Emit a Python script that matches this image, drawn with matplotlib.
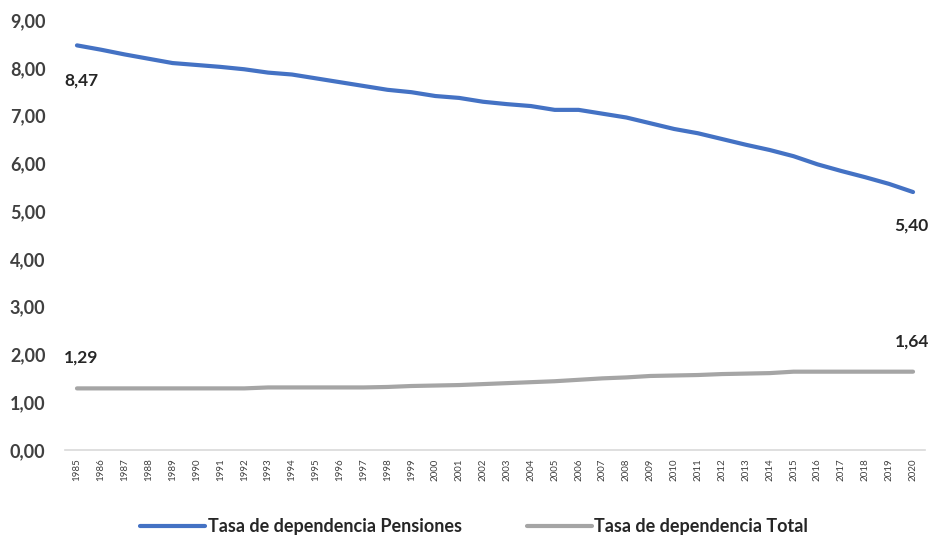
import matplotlib
matplotlib.use("Agg")
import matplotlib.pyplot as plt
from matplotlib.ticker import FuncFormatter

years = list(range(1985, 2021))
pensiones = [8.47, 8.38, 8.28, 8.19, 8.10, 8.06, 8.02, 7.97, 7.90, 7.86,
             7.78, 7.70, 7.62, 7.54, 7.49, 7.41, 7.37, 7.29, 7.24, 7.20,
             7.12, 7.12, 7.04, 6.96, 6.84, 6.72, 6.63, 6.51, 6.39, 6.28,
             6.15, 5.98, 5.84, 5.71, 5.57, 5.40]
total = [1.29, 1.29, 1.29, 1.29, 1.29, 1.29, 1.29, 1.29, 1.31, 1.31,
         1.31, 1.31, 1.31, 1.32, 1.34, 1.35, 1.36, 1.38, 1.40, 1.42,
         1.44, 1.47, 1.50, 1.52, 1.55, 1.56, 1.57, 1.59, 1.60, 1.61,
         1.64, 1.64, 1.64, 1.64, 1.64, 1.64]
labels = ["Tasa de dependencia Pensiones", "Tasa de dependencia Total"]
y_ticks = [0, 1, 2, 3, 4, 5, 6, 7, 8, 9]

plt.rcParams['font.family'] = ['Lato', 'DejaVu Sans']

fig = plt.figure(figsize=(9.33, 5.42), dpi=100)
ax = fig.add_axes([0.0697, 0.1697, 0.9217, 0.7933])

x = list(range(len(years)))
ax.plot(x, pensiones, color="#4472C4", lw=3.0, solid_capstyle="round", label=labels[0])
ax.plot(x, total, color="#A5A5A5", lw=3.0, solid_capstyle="round", label=labels[1])

ax.set_xlim(-0.5, len(years) - 0.5)
ax.set_ylim(0, 9)
ax.set_yticks(y_ticks)
ax.yaxis.set_major_formatter(FuncFormatter(lambda v, p: f"{v:.2f}".replace(".", ",")))
ax.set_xticks(x)
ax.set_xticklabels([str(y) for y in years], rotation=90, fontsize=7, color="#404040")

for s in ["top", "right", "left"]:
    ax.spines[s].set_visible(False)
ax.spines["bottom"].set_color("#D9D9D9")
ax.spines["bottom"].set_linewidth(1.2)
ax.tick_params(axis="y", length=0, pad=14, labelsize=13, labelcolor="#404040")
ax.tick_params(axis="x", length=0, pad=6)
for t in ax.get_yticklabels():
    t.set_fontweight("bold")

def fmt(v):
    return f"{v:.2f}".replace(".", ",")

lab_kw = dict(fontsize=12.5, fontweight="bold", color="#262626", ha="center", va="center")
ax.annotate(fmt(pensiones[0]), (x[0], pensiones[0]), xytext=(3, -25), textcoords="offset points", **lab_kw)
ax.annotate(fmt(pensiones[-1]), (x[-1], pensiones[-1]), xytext=(-1, -24), textcoords="offset points", **lab_kw)
ax.annotate(fmt(total[0]), (x[0], total[0]), xytext=(3, 22), textcoords="offset points", **lab_kw)
ax.annotate(fmt(total[-1]), (x[-1], total[-1]), xytext=(-1, 22), textcoords="offset points", **lab_kw)

leg = fig.legend(loc="center", bbox_to_anchor=(0.508, 0.028), ncol=2, frameon=False,
                 fontsize=13, handlelength=3.6, handletextpad=0.15, columnspacing=3.6)
for t in leg.get_texts():
    t.set_fontweight("bold")
    t.set_color("#262626")

fig.savefig("out.png", dpi=100, facecolor="white")
